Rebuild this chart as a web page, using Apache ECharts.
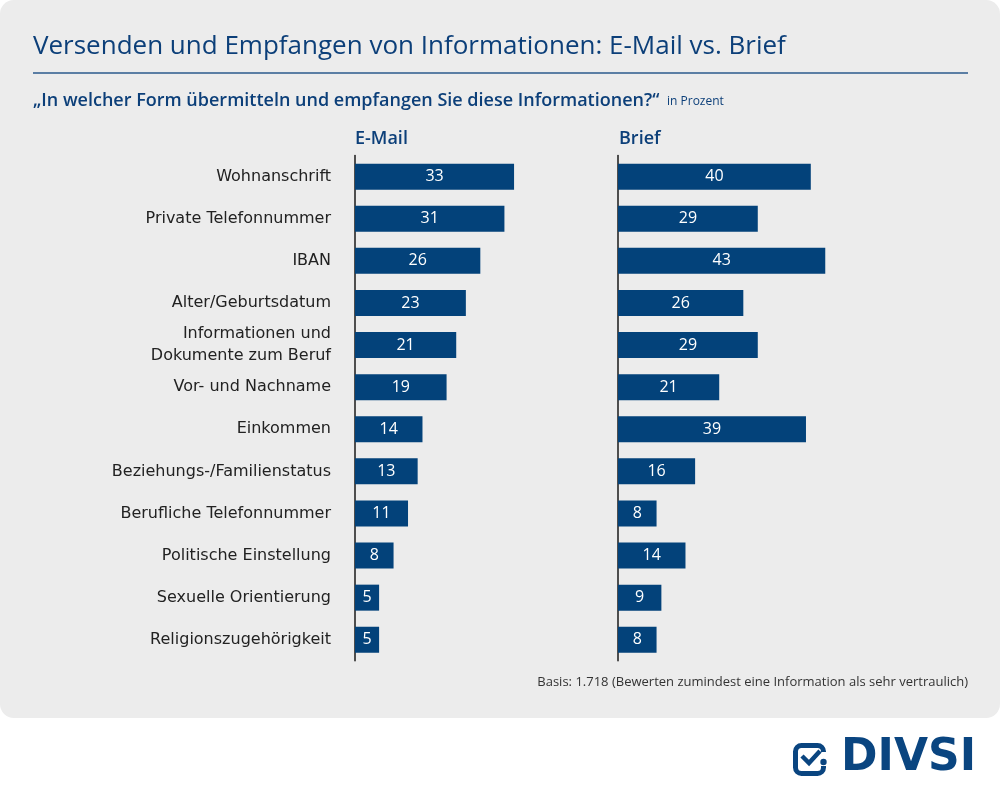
<!DOCTYPE html>
<html>
<head>
<meta charset="utf-8" />
<title>E-Mail vs. Brief</title>
<script src="https://cdn.jsdelivr.net/npm/echarts@6/dist/echarts.min.js"></script>
<style>
  html, body { margin: 0; padding: 0; background: #fff; }
  #chart { width: 1000px; height: 801px; }
</style>
</head>
<body>
<div id="chart"></div>
<script type="text/javascript">
    // Daten
    var categories = [
        'Wohnanschrift',
        'Private Telefonnummer',
        'IBAN',
        'Alter/Geburtsdatum',
        'Informationen und\nDokumente zum Beruf',
        'Vor- und Nachname',
        'Einkommen',
        'Beziehungs-/Familienstatus',
        'Berufliche Telefonnummer',
        'Politische Einstellung',
        'Sexuelle Orientierung',
        'Religionszugehörigkeit'
    ];
    var emailValues = [33, 31, 26, 23, 21, 19, 14, 13, 11, 8, 5, 5];
    var briefValues = [40, 29, 43, 26, 29, 21, 39, 16, 8, 14, 9, 8];

    var blue = '#03427a';
    var textBlue = '#0c3f79';
    var logoBlue = '#0a4580';
    var font = 'Open Sans';
    var labelFont = 'DejaVu Sans';

    var myChart = echarts.init(document.getElementById('chart'));

    var barLabel = {
        show: true,
        position: 'inside',
        color: '#fff',
        fontSize: 16,
        fontFamily: font
    };

    myChart.setOption({
        animation: false,
        textStyle: { fontFamily: font },
        title: [
            { text: 'Versenden und Empfangen von Informationen: E-Mail vs. Brief', left: 33, top: 34, padding: 0,
              textStyle: { fontSize: 26, fontWeight: 'normal', color: textBlue, fontFamily: font } },
            { text: '„In welcher Form übermitteln und empfangen Sie diese Informationen?“', left: 33, top: 92, padding: 0,
              textStyle: { fontSize: 18, fontWeight: 600, color: textBlue, fontFamily: font } },
            { text: 'in Prozent', left: 667, top: 96, padding: 0,
              textStyle: { fontSize: 12, fontWeight: 'normal', color: textBlue, fontFamily: font } },
            { text: 'E-Mail', left: 355, top: 130, padding: 0,
              textStyle: { fontSize: 18, fontWeight: 600, color: textBlue, fontFamily: font } },
            { text: 'Brief', left: 619, top: 130, padding: 0,
              textStyle: { fontSize: 18, fontWeight: 600, color: textBlue, fontFamily: font } },
            { text: 'Basis: 1.718 (Bewerten zumindest eine Information als sehr vertraulich)', right: 32, top: 676, padding: 0,
              textStyle: { fontSize: 13, fontWeight: 'normal', color: '#333', fontFamily: font } },
            { text: 'DIVSI', left: 841, top: 737, padding: 0,
              textStyle: { fontSize: 44, fontWeight: 'bold', color: logoBlue, fontFamily: labelFont } }
        ],
        graphic: [
            { type: 'rect', z: -10, silent: true,
              shape: { x: 0, y: 0, width: 1000, height: 718, r: 14 },
              style: { fill: '#ececec' } },
            { type: 'line', silent: true,
              shape: { x1: 33, y1: 73, x2: 968, y2: 73 },
              style: { stroke: '#2b5a8d', lineWidth: 1.5 } },
            // Logo
            { type: 'rect', silent: true,
              shape: { x: 795.5, y: 745.5, width: 28, height: 28, r: 6 },
              style: { fill: 'none', stroke: logoBlue, lineWidth: 5 } },
            { type: 'rect', silent: true,
              shape: { x: 819, y: 752, width: 10, height: 14 },
              style: { fill: '#fff' } },
            { type: 'circle', silent: true,
              shape: { cx: 823.5, cy: 762, r: 3.2 },
              style: { fill: logoBlue } },
            { type: 'polyline', silent: true,
              shape: { points: [[802, 756], [809, 763], [820, 751]] },
              style: { stroke: logoBlue, lineWidth: 4.5, fill: 'none' } }
        ],
        grid: [
            { left: 355, top: 155.6, width: 241, height: 505.2 },
            { left: 618, top: 155.6, width: 241, height: 505.2 }
        ],
        xAxis: [
            { gridIndex: 0, type: 'value', min: 0, max: 50, show: false },
            { gridIndex: 1, type: 'value', min: 0, max: 50, show: false }
        ],
        yAxis: [
            { gridIndex: 0, type: 'category', data: categories, inverse: true,
              axisLine: { show: true, lineStyle: { color: '#1a1a1a', width: 1.5 } },
              axisTick: { show: false },
              axisLabel: { margin: 24, fontSize: 16, color: '#222', lineHeight: 22, fontFamily: labelFont } },
            { gridIndex: 1, type: 'category', data: categories, inverse: true,
              axisLine: { show: true, lineStyle: { color: '#1a1a1a', width: 1.5 } },
              axisTick: { show: false },
              axisLabel: { show: false } }
        ],
        series: [
            { name: 'E-Mail', type: 'bar', xAxisIndex: 0, yAxisIndex: 0, barWidth: 26,
              itemStyle: { color: blue }, label: barLabel, data: emailValues },
            { name: 'Brief', type: 'bar', xAxisIndex: 1, yAxisIndex: 1, barWidth: 26,
              itemStyle: { color: blue }, label: barLabel, data: briefValues }
        ]
    });
</script>
</body>
</html>
